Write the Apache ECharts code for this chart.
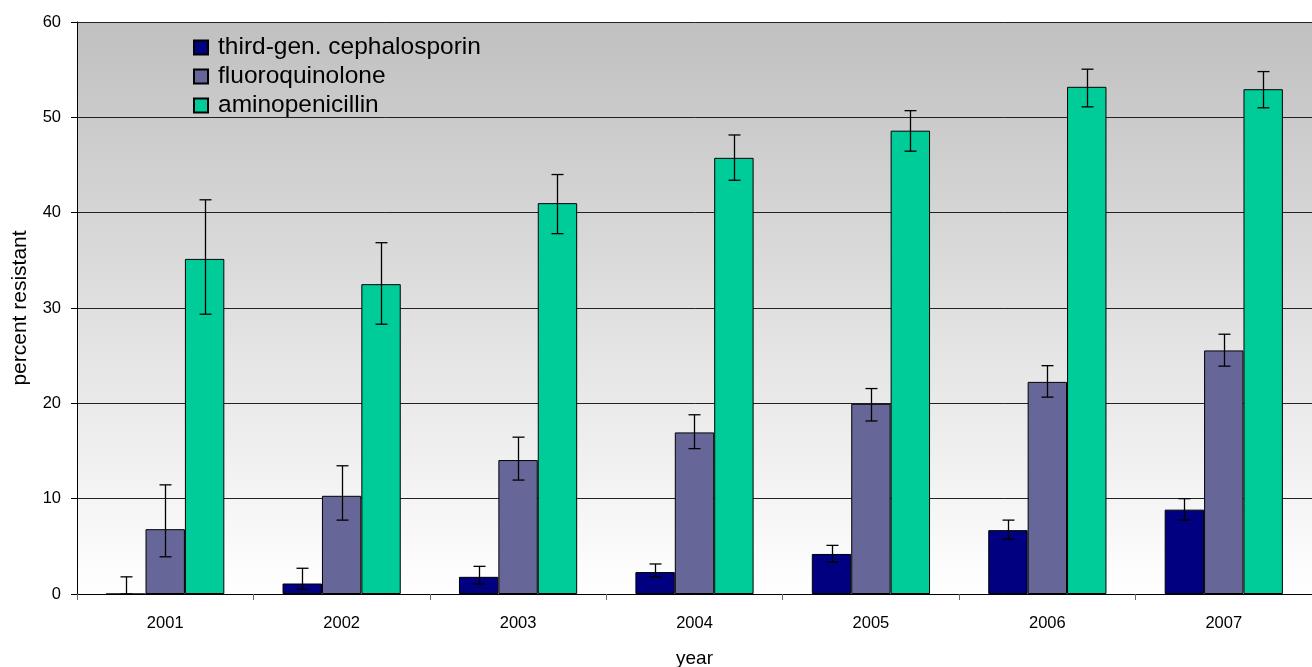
<!DOCTYPE html>
<html>
<head>
<meta charset="utf-8">
<script src="https://cdn.jsdelivr.net/npm/echarts@6/dist/echarts.min.js"></script>
<style>
html,body{margin:0;padding:0;background:#fff;}
#c{width:1312px;height:667px;}
</style>
</head>
<body>
<div id="c"></div>
<script>
var years = ['2001','2002','2003','2004','2005','2006','2007'];
var seriesNames = ['third-gen. cephalosporin','fluoroquinolone','aminopenicillin'];

var third   = [0, 1.1, 1.8, 2.3, 4.2, 6.7, 8.85];
var thirdHi = [1.8, 2.7, 2.9, 3.15, 5.1, 7.75, 10.0];
var thirdLo = [0, 0.5, 1.05, 1.8, 3.35, 5.75, 7.75];

var fluoro   = [6.8, 10.3, 14.05, 16.95, 19.95, 22.25, 25.55];
var fluoroHi = [11.45, 13.45, 16.45, 18.8, 21.55, 23.95, 27.25];
var fluoroLo = [3.9, 7.75, 11.95, 15.25, 18.15, 20.65, 23.9];

var amino   = [35.15, 32.5, 41.0, 45.75, 48.6, 53.2, 52.95];
var aminoHi = [41.35, 36.85, 44.0, 48.15, 50.7, 55.05, 54.8];
var aminoLo = [29.35, 28.3, 37.8, 43.4, 46.45, 51.1, 51.0];

var colors = ['#000080', '#666699', '#00CC99'];
var FONT = 'Liberation Sans, Arial, sans-serif';
var CAT_GAP = 0.33;

function errData(hi, lo) {
  return years.map(function (y, i) { return [i, lo[i], hi[i]]; });
}

function makeErr(idx, hi, lo) {
  return {
    type: 'custom',
    name: seriesNames[idx] + ' err',
    z: 10,
    silent: true,
    data: errData(hi, lo),
    renderItem: function (params, api) {
      var ci = api.value(0);
      var pHi = api.coord([ci, api.value(2)]);
      var pLo = api.coord([ci, api.value(1)]);
      var catW = api.size([1, 0])[0];
      var bw = catW * (1 - CAT_GAP) / 3;
      var x = Math.round(pHi[0] + (idx - 1) * bw) + 0.5;
      var cap = 6;
      var st = { stroke: '#000', lineWidth: 1.3 };
      return {
        type: 'group',
        children: [
          { type: 'line', shape: { x1: x, y1: pHi[1], x2: x, y2: pLo[1] }, style: st },
          { type: 'line', shape: { x1: x - cap, y1: pHi[1], x2: x + cap, y2: pHi[1] }, style: st },
          { type: 'line', shape: { x1: x - cap, y1: pLo[1], x2: x + cap, y2: pLo[1] }, style: st }
        ]
      };
    }
  };
}

function makeBar(idx, vals) {
  return {
    type: 'bar',
    name: seriesNames[idx],
    data: vals,
    barGap: '0%',
    barCategoryGap: (CAT_GAP * 100) + '%',
    itemStyle: { color: colors[idx], borderColor: '#000', borderWidth: 1 },
    emphasis: { disabled: true }
  };
}

var chart = echarts.init(document.getElementById('c'), null, { renderer: 'canvas' });
chart.setOption({
  animation: false,
  backgroundColor: '#ffffff',
  textStyle: { fontFamily: FONT, color: '#000' },
  grid: {
    left: 77, top: 22, right: 0, bottom: 73,
    outerBoundsMode: 'none',
    containLabel: false,
    show: true, borderWidth: 0,
    backgroundColor: {
      type: 'linear', x: 0, y: 0, x2: 0, y2: 1,
      colorStops: [{ offset: 0, color: '#c0c0c0' }, { offset: 1, color: '#ffffff' }]
    }
  },
  legend: {
    orient: 'vertical',
    left: 193, top: 35,
    padding: 0,
    icon: 'rect',
    itemWidth: 14, itemHeight: 14,
    itemGap: 4,
    data: seriesNames,
    textStyle: { fontFamily: FONT, fontSize: 24.5, lineHeight: 24, color: '#000', padding: [0, 0, 0, 5] }
  },
  xAxis: {
    type: 'category',
    data: years,
    name: 'year',
    nameLocation: 'middle',
    nameGap: 55,
    nameTextStyle: { fontFamily: FONT, fontSize: 19, color: '#000' },
    axisLine: { show: true, lineStyle: { color: '#000', width: 1 } },
    axisTick: { show: true, length: 6, lineStyle: { color: '#666' } },
    axisLabel: { fontFamily: FONT, fontSize: 16.5, color: '#000', margin: 21 }
  },
  yAxis: {
    type: 'value',
    min: 0, max: 60, interval: 10,
    name: 'percent resistant',
    nameLocation: 'middle',
    nameGap: 46,
    nameTextStyle: { fontFamily: FONT, fontSize: 21, color: '#000' },
    axisLine: { show: true, lineStyle: { color: '#000', width: 1 } },
    axisTick: { show: true, length: 6, lineStyle: { color: '#000' } },
    axisLabel: { fontFamily: FONT, fontSize: 16.5, color: '#000', margin: 16 },
    splitLine: { show: true, lineStyle: { color: '#222', width: 1 } }
  },
  series: [
    makeBar(0, third), makeBar(1, fluoro), makeBar(2, amino),
    makeErr(0, thirdHi, thirdLo), makeErr(1, fluoroHi, fluoroLo), makeErr(2, aminoHi, aminoLo)
  ]
});
</script>
</body>
</html>
